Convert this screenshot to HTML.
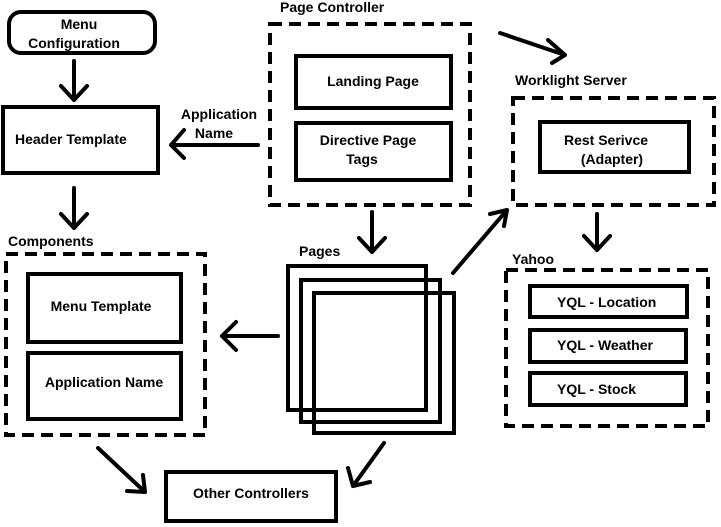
<!DOCTYPE html>
<html><head><style>
html,body{margin:0;padding:0;background:#fff;width:721px;height:527px;overflow:hidden}
svg text{font-family:"Liberation Sans",sans-serif;font-weight:bold;font-size:14px;fill:#000}
</style></head><body>
<svg width="721" height="527" viewBox="0 0 721 527" xmlns="http://www.w3.org/2000/svg">
<g fill="none" stroke="#000" stroke-width="4">
<rect x="9" y="12" width="146" height="41" rx="12"/>
<rect x="3" y="107" width="155" height="66"/>
<rect x="296" y="56" width="155" height="52"/>
<rect x="296" y="123" width="155" height="57"/>
<rect x="540" y="122" width="149" height="50"/>
<rect x="28" y="274" width="153" height="68"/>
<rect x="28" y="353" width="153" height="66"/>
<rect x="530" y="286" width="157" height="31"/>
<rect x="530" y="330" width="156" height="32"/>
<rect x="530" y="373" width="156" height="32"/>
<rect x="288" y="266" width="138" height="144"/>
<rect x="301" y="280" width="139" height="142"/>
<rect x="314" y="293" width="140" height="140"/>
<rect x="166" y="472" width="170" height="49"/>
</g>
<g fill="none" stroke="#000" stroke-width="4" stroke-dasharray="12,7">
<rect x="270" y="24" width="200" height="181"/>
<rect x="513" y="98" width="201" height="107"/>
<rect x="6" y="254" width="199" height="181"/>
<rect x="506" y="270" width="202" height="156"/>
</g>
<g fill="none" stroke="#000" stroke-width="4" stroke-linecap="round" stroke-linejoin="round">
<path d="M74 61V100M61 86L74 100L87 86"/>
<path d="M74 188V228M61 214L74 228L87 214"/>
<path d="M258 145H171M184 130L171 145L184 158"/>
<path d="M372 212V252M359 238L372 252L385 238"/>
<path d="M597 214V250M584 236L597 250L610 236"/>
<path d="M500 33L565 55M548 40L565 55L552 63"/>
<path d="M278 336H222M236 322L222 336L236 350"/>
<path d="M453 273L507 210M490 214L507 210L504 226"/>
<path d="M384 443L353 486M348 468L353 486L370 482"/>
<path d="M98 448L145 492M127 491L145 492L143 475"/>
</g>
<text x="79" y="29" text-anchor="middle">Menu</text>
<text x="74" y="48" text-anchor="middle">Configuration</text>
<text x="15" y="144">Header Template</text>
<text x="219" y="119" text-anchor="middle">Application</text>
<text x="214" y="138" text-anchor="middle">Name</text>
<text x="280" y="12">Page Controller</text>
<text x="373" y="86" text-anchor="middle">Landing Page</text>
<text x="368" y="145" text-anchor="middle">Directive Page</text>
<text x="362" y="164" text-anchor="middle">Tags</text>
<text x="515" y="85">Worklight Server</text>
<text x="606" y="145" text-anchor="middle">Rest Serivce</text>
<text x="612" y="164" text-anchor="middle">(Adapter)</text>
<text x="8" y="246">Components</text>
<text x="101" y="311" text-anchor="middle">Menu Template</text>
<text x="104" y="387" text-anchor="middle">Application Name</text>
<text x="299" y="256">Pages</text>
<text x="512" y="264">Yahoo</text>
<text x="557" y="307">YQL - Location</text>
<text x="557" y="350">YQL -  Weather</text>
<text x="557" y="394">YQL -  Stock</text>
<text x="251" y="498" text-anchor="middle">Other Controllers</text>
</svg>
</body></html>
